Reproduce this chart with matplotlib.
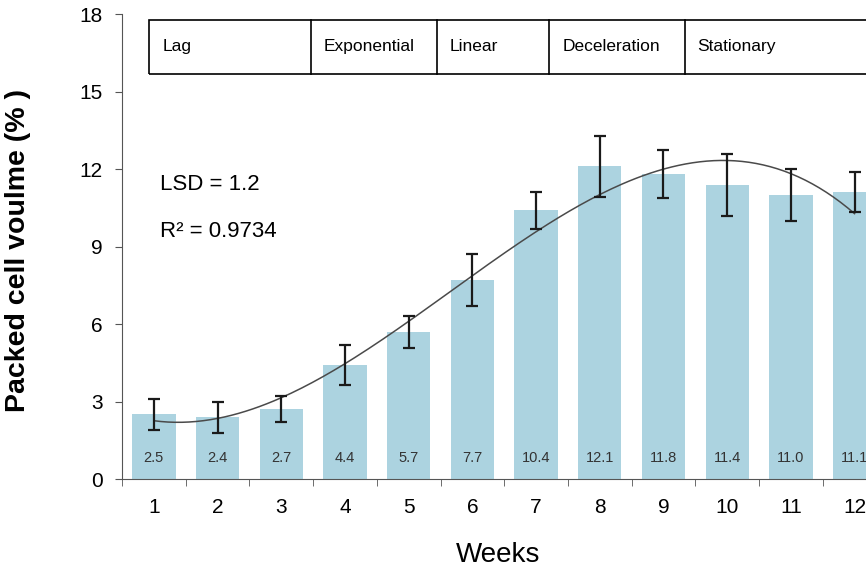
import numpy as np
import matplotlib
matplotlib.use('Agg')
import matplotlib.pyplot as plt
from matplotlib.patches import Rectangle

plt.rcParams['font.family'] = ['Liberation Sans', 'DejaVu Sans']

# data
weeks = np.arange(1, 13)
pcv = [2.5, 2.4, 2.7, 4.4, 5.7, 7.7, 10.4, 12.1, 11.8, 11.4, 11.0, 11.1]
err = [0.6, 0.6, 0.5, 0.77, 0.63, 1.0, 0.71, 1.17, 0.92, 1.2, 1.0, 0.77]
value_labels = ['2.5', '2.4', '2.7', '4.4', '5.7', '7.7', '10.4', '12.1',
                '11.8', '11.4', '11.0', '11.1']
phases = ['Lag', 'Exponential', 'Linear', 'Deceleration', 'Stationary']
phase_edges = [0.93, 3.46, 5.45, 7.21, 9.33, 12.5]

# cubic trend line (Excel style) fitted on the bar values
coef = np.polyfit(weeks, pcv, 3)
xs = np.linspace(1, 12, 200)
trend = np.polyval(coef, xs)

fig = plt.figure(figsize=(8.66, 5.73), dpi=100)
ax = fig.add_axes([0.1409, 0.164, 0.8827, 0.8115])

ax.bar(weeks, pcv, width=0.68, color='#acd3e0', zorder=1)
ax.errorbar(weeks, pcv, yerr=err, fmt='none', ecolor='#1a1a1a',
            elinewidth=1.6, capsize=4, capthick=1.6, zorder=3)
ax.plot(xs, trend, color='#4a4a4a', lw=1.1, zorder=2)

for x, lab in zip(weeks, value_labels):
    ax.text(x, 0.8, lab, ha='center', va='center', fontsize=10.5,
            color='#333333')

# phase box
ax.add_patch(Rectangle((phase_edges[0], 15.68), phase_edges[-1] - phase_edges[0],
                       17.77 - 15.68, fill=False, ec='black', lw=1.2,
                       clip_on=False, zorder=4))
for e in phase_edges[1:-1]:
    ax.plot([e, e], [15.68, 17.77], color='black', lw=1.2, zorder=4)
for e, name in zip(phase_edges[:-1], phases):
    ax.text(e + 0.2, 16.75, name, ha='left', va='center', fontsize=12.5)

ax.text(1.09, 11.4, 'LSD = 1.2', fontsize=16, va='center')
ax.text(1.09, 9.6, 'R² = 0.9734', fontsize=16, va='center')

ax.set_xlim(0.5, 12.5)
ax.set_ylim(0, 18)
ax.set_yticks(np.arange(0, 19, 3))
ax.set_xticks(weeks)
ax.set_xticks(np.arange(0.5, 12.6, 1), minor=True)
ax.tick_params(axis='x', which='major', length=0, labelsize=15, pad=14)
ax.tick_params(axis='x', which='minor', length=5, color='#555555')
ax.tick_params(axis='y', length=5, labelsize=15, color='#555555', pad=9)

for s in ['top', 'right']:
    ax.spines[s].set_visible(False)
for s in ['left', 'bottom']:
    ax.spines[s].set_color('#555555')

fig.text(18 / 866, 1 - 250 / 573, 'Packed cell voulme (% )', rotation=90,
         ha='center', va='center', fontsize=20.5, fontweight='bold')
fig.text(498 / 866, 1 - 555 / 573, 'Weeks', ha='center', va='center',
         fontsize=20)

fig.savefig('out.png', dpi=100)
